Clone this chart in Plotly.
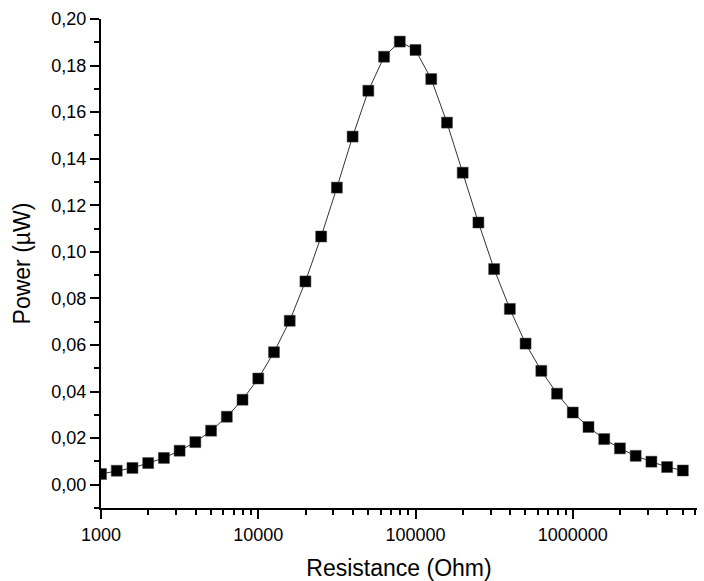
import plotly.graph_objects as go

# Data
resistance_ohm = [
    1000, 1259, 1585, 1995, 2512, 3162, 3981, 5012, 6310, 7943,
    10000, 12589, 15849, 19953, 25119, 31623, 39811, 50119, 63096, 79433,
    100000, 125893, 158489, 199526, 251189, 316228, 398107, 501187, 630957, 794328,
    1000000, 1258925, 1584893, 1995262, 2511886, 3162278, 3981072, 5011872,
]
power_uw = [
    0.0046, 0.0060, 0.0072, 0.0093, 0.0115, 0.0146, 0.0183, 0.0232, 0.0292, 0.0365,
    0.0456, 0.0569, 0.0704, 0.0873, 0.1066, 0.1276, 0.1495, 0.1692, 0.1838, 0.1903,
    0.1867, 0.1742, 0.1555, 0.1340, 0.1126, 0.0926, 0.0755, 0.0606, 0.0489, 0.0391,
    0.0310, 0.0248, 0.0196, 0.0156, 0.0124, 0.0099, 0.0076, 0.0061,
]
x_tick_values = [1000, 10000, 100000, 1000000]
x_tick_labels = ["1000", "10000", "100000", "1000000"]
y_tick_values = [0.00, 0.02, 0.04, 0.06, 0.08, 0.10, 0.12, 0.14, 0.16, 0.18, 0.20]

FONT = "Liberation Sans, Arial, sans-serif"

fig = go.Figure()
fig.add_trace(go.Scatter(
    x=resistance_ohm,
    y=power_uw,
    mode="lines+markers",
    line=dict(color="#333333", width=1),
    marker=dict(symbol="square", size=11, color="black",
                line=dict(color="#444444", width=0.5)),
    showlegend=False,
))

fig.update_layout(
    width=704, height=581,
    margin=dict(l=101, r=7, t=19, b=73),
    paper_bgcolor="white", plot_bgcolor="white",
    separators=",.",
    font=dict(family=FONT, color="black", size=18),
    xaxis=dict(
        type="log",
        range=[3, 6.79],
        automargin=False,
        tickvals=x_tick_values,
        ticktext=x_tick_labels,
        showgrid=False, zeroline=False,
        showline=True, linecolor="black", linewidth=2,
        ticks="outside", ticklen=9, tickwidth=2, tickcolor="black",
        tickfont=dict(size=18),
        minor=dict(ticks="outside", ticklen=5, tickwidth=2, tickcolor="black",
                   dtick="D1", showgrid=False),
        title=dict(text="Resistance (Ohm)", font=dict(size=23), standoff=19),
    ),
    yaxis=dict(
        range=[-0.01, 0.20],
        automargin=False,
        tickvals=y_tick_values,
        tickformat=".2f",
        showgrid=False, zeroline=False,
        showline=True, linecolor="black", linewidth=2,
        ticks="outside", ticklen=9, tickwidth=2, tickcolor="black",
        tickfont=dict(size=18),
        minor=dict(ticks="outside", ticklen=5, tickwidth=2, tickcolor="black",
                   dtick=0.01, tick0=0.01, showgrid=False),
        title=dict(text="Power (µW)", font=dict(size=23), standoff=14),
    ),
)

fig.write_html("out.html")
